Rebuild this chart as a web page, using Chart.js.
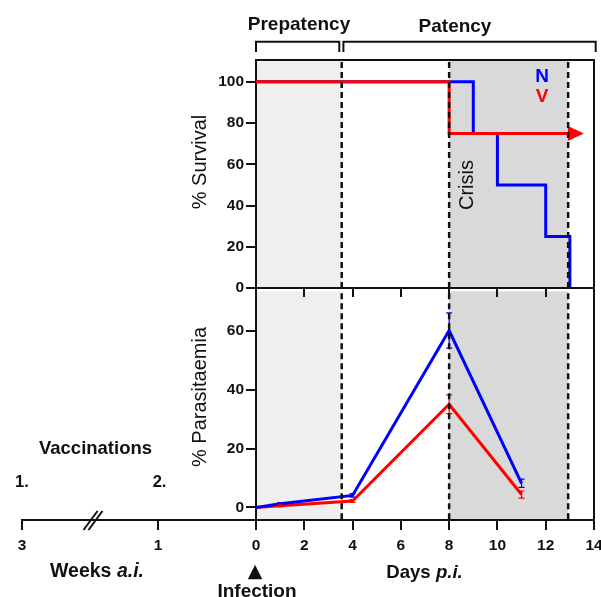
<!DOCTYPE html>
<html>
<head>
<meta charset="utf-8">
<script src="https://cdn.jsdelivr.net/npm/chart.js@4.4.1/dist/chart.umd.min.js"></script>
<style>
  html, body { margin: 0; padding: 0; background: #fff; }
  body { width: 601px; height: 597px; overflow: hidden; position: relative; }
  .wrap { position: absolute; left: 0; }
  .t { position: absolute; line-height: 1; white-space: nowrap; font-family: 'Liberation Sans', Arial, sans-serif; color: #111; }
  .b { font-weight: bold; }
  .c { transform: translateX(-50%); }
  .r { transform: translate(-50%, -50%) rotate(-90deg); }
  i { font-style: italic; }
</style>
</head>
<body>
<div class="wrap" style="top:280px; width:601px; height:317px;"><canvas id="cP"></canvas></div>
<div class="wrap" style="top:280px; width:601px; height:317px;"><canvas id="cW"></canvas></div>
<div class="wrap" style="top:0; width:601px; height:300px;"><canvas id="cS"></canvas></div>

<div class="t b c" style="left:299px; top:13.5px; font-size:19px;">Prepatency</div>
<div class="t b c" style="left:455px; top:15.8px; font-size:19px;">Patency</div>
<div class="t b c" style="left:542px; top:65.8px; font-size:19px; color:#0000ff;">N</div>
<div class="t b c" style="left:542px; top:85.8px; font-size:19px; color:#ff0000;">V</div>
<div class="t r" style="left:199px; top:162px; font-size:20px;">% Survival</div>
<div class="t r" style="left:199px; top:397px; font-size:20px;">% Parasitaemia</div>
<div class="t r" style="left:466px; top:185px; font-size:20px;">Crisis</div>
<div class="t b c" style="left:95.5px; top:439.3px; font-size:18.5px;">Vaccinations</div>
<div class="t b" style="left:15px; top:472.8px; font-size:16.5px;">1.</div>
<div class="t b" style="left:152.7px; top:472.8px; font-size:16.5px;">2.</div>
<div class="t b c" style="left:97px; top:560.8px; font-size:19.5px;">Weeks <i>a.i.</i></div>
<div class="t b c" style="left:424.5px; top:562.6px; font-size:18.6px;">Days <i>p.i.</i></div>
<div class="t c" style="left:255px; top:561px; font-size:19px; font-family:'DejaVu Sans';">▲</div>
<div class="t b c" style="left:257px; top:580.8px; font-size:19px;">Infection</div>

<script>
// ---------------- data ----------------
const dayTicks = [0, 2, 4, 6, 8, 10, 12, 14];
const weekTicks = [3, 1];
const survivalTicks = [0, 20, 40, 60, 80, 100];
const parasitTicks = [0, 20, 40, 60];

// survival (%), step curves
const survDaysN = [0, 9, 10, 12, 13];
const survN = [100, 75, 50, 25, 0];
const survDaysV = [0, 8, 13];
const survV = [100, 75, 75];

// parasitaemia (%), mean and error
const paraDays = [0, 1, 4, 8, 11];
const paraN = [0, 1.3, 4.1, 60, 8.2];
const paraV = [0, 0.6, 2.2, 35, 4.4];
const paraErrN = [0, 0.4, 0.6, 6, 1.4];
const paraErrV = [0, 0.3, 0.5, 3.2, 1.2];

// phase boundaries (days p.i.)
const prepatencyEnd = 3.55;
const crisisStart = 8;
const crisisEnd = 12.93;

// ---------------- helpers ----------------
const FONT = "'Liberation Sans', Arial, sans-serif";
const INK = '#111';
const BLUE = '#0000ff';
const RED = '#ff0000';
const tickFont = { family: FONT, size: 15.5, weight: 'bold' };

// broken week axis: weeks beyond 1 are compressed
function weekToAxis(w) { return w <= 1 ? -w : -(1 + (w - 1) * 0.694); }
function pts(xs, ys) { return xs.map((x, i) => ({ x: x, y: ys[i] })); }

function yAxis(min, max, ticks) {
  return {
    type: 'linear', min: min, max: max, position: 'left',
    afterBuildTicks: s => { s.ticks = ticks.map(v => ({ value: v })); },
    afterFit: s => { s.width = 256; },
    grid: { drawOnChartArea: false, drawTicks: true, tickLength: 10, color: INK, lineWidth: 2 },
    border: { display: true, color: INK, width: 2 },
    ticks: { font: tickFont, color: INK, padding: 2 }
  };
}
function xAxis(min, max, ticks, height, showLabels, tickLen, labelFn) {
  return {
    type: 'linear', min: min, max: max, position: 'bottom',
    afterBuildTicks: s => { s.ticks = ticks.map(v => ({ value: v })); },
    afterFit: s => { s.height = height; s.paddingLeft = 0; s.paddingRight = 0; },
    grid: { drawOnChartArea: false, drawTicks: true, tickLength: tickLen, color: INK, lineWidth: 2 },
    border: { display: true, color: INK, width: 2 },
    ticks: { display: showLabels, font: tickFont, color: INK, padding: 6, maxRotation: 0, autoSkip: false,
             callback: labelFn || (v => v) }
  };
}

const shadePlugin = {
  id: 'shade',
  beforeDraw(chart) {
    const { ctx, chartArea: a, scales: { x } } = chart;
    const p = v => x.getPixelForValue(v);
    ctx.save();
    ctx.fillStyle = '#efefef';
    ctx.fillRect(p(0), a.top, p(prepatencyEnd) - p(0), a.bottom - a.top);
    ctx.fillStyle = '#d9d9d9';
    ctx.fillRect(p(crisisStart), a.top, p(crisisEnd) - p(crisisStart), a.bottom - a.top);
    ctx.restore();
  }
};
const dashPlugin = {
  id: 'dash',
  afterDatasetsDraw(chart) {
    const { ctx, chartArea: a, scales: { x } } = chart;
    ctx.save();
    ctx.strokeStyle = INK; ctx.lineWidth = 2.5; ctx.setLineDash([6, 4]);
    [prepatencyEnd, crisisStart, crisisEnd].forEach(v => {
      const px = x.getPixelForValue(v);
      ctx.beginPath(); ctx.moveTo(px, a.top + 2); ctx.lineTo(px, a.bottom); ctx.stroke();
    });
    ctx.restore();
  }
};
function framePlugin(withTop) {
  return {
    id: 'frame' + (withTop ? 'T' : ''),
    afterDatasetsDraw(chart) {
      const { ctx, chartArea: a } = chart;
      ctx.save(); ctx.strokeStyle = INK; ctx.lineWidth = 2; ctx.setLineDash([]);
      ctx.beginPath();
      if (withTop) { ctx.moveTo(a.left - 1, a.top); ctx.lineTo(a.right, a.top); ctx.lineTo(a.right, a.bottom); }
      else { ctx.moveTo(a.right, a.top); ctx.lineTo(a.right, a.bottom); }
      ctx.stroke(); ctx.restore();
    }
  };
}
const arrowPlugin = {
  id: 'arrow',
  afterDatasetsDraw(chart) {
    const meta = chart.getDatasetMeta(0);
    const last = meta.data[meta.data.length - 1];
    const ctx = chart.ctx;
    ctx.save(); ctx.fillStyle = RED;
    ctx.beginPath();
    ctx.moveTo(last.x - 2, last.y - 7.5);
    ctx.lineTo(last.x + 14, last.y);
    ctx.lineTo(last.x - 2, last.y + 7.5);
    ctx.closePath(); ctx.fill(); ctx.restore();
  }
};
const bracketPlugin = {
  id: 'brackets',
  afterDraw(chart) {
    const { ctx, scales: { x } } = chart;
    const yTop = 41.7, yEnd = 52;
    const spans = [[0, 3.45], [3.62, 14.07]];
    ctx.save(); ctx.strokeStyle = INK; ctx.lineWidth = 2;
    spans.forEach(([a, b]) => {
      const x1 = x.getPixelForValue(a), x2 = x.getPixelForValue(b);
      ctx.beginPath(); ctx.moveTo(x1, yEnd); ctx.lineTo(x1, yTop); ctx.lineTo(x2, yTop); ctx.lineTo(x2, yEnd); ctx.stroke();
    });
    ctx.restore();
  }
};
const errPlugin = {
  id: 'err',
  afterDatasetsDraw(chart) {
    const { ctx, scales: { x, y } } = chart;
    chart.data.datasets.forEach(ds => {
      if (!ds.errors) return;
      ctx.save(); ctx.strokeStyle = ds.borderColor; ctx.lineWidth = 1.2;
      ds.data.forEach((p, i) => {
        const e = ds.errors[i]; if (!e) return;
        const px = x.getPixelForValue(p.x);
        const y1 = y.getPixelForValue(p.y + e), y2 = y.getPixelForValue(p.y - e);
        ctx.beginPath();
        ctx.moveTo(px, y1); ctx.lineTo(px, y2);
        ctx.moveTo(px - 3, y1); ctx.lineTo(px + 3, y1);
        ctx.moveTo(px - 3, y2); ctx.lineTo(px + 3, y2);
        ctx.stroke();
      });
      ctx.restore();
    });
  }
};
const breakPlugin = {
  id: 'axisBreak',
  afterDraw(chart) {
    const { ctx, chartArea: a, scales: { x } } = chart;
    const cx = x.getPixelForValue(weekToAxis(2)) + 3;
    const yb = a.bottom;
    ctx.save(); ctx.strokeStyle = INK; ctx.lineWidth = 2;
    [-2.5, 2.5].forEach(off => {
      ctx.beginPath(); ctx.moveTo(cx + off - 7, yb + 10); ctx.lineTo(cx + off + 7, yb - 9); ctx.stroke();
    });
    ctx.restore();
  }
};

const common = {
  responsive: true, maintainAspectRatio: false, animation: false, devicePixelRatio: 1,
  plugins: { legend: { display: false }, tooltip: { enabled: false } },
  elements: { point: { radius: 0 }, line: { tension: 0 } }
};

// ---------------- survival chart ----------------
new Chart(document.getElementById('cS'), {
  type: 'line',
  data: {
    datasets: [
      { label: 'V', data: pts(survDaysV, survV), borderColor: RED, borderWidth: 3, stepped: true, pointRadius: 0 },
      { label: 'N', data: pts(survDaysN, survN), borderColor: BLUE, borderWidth: 3, stepped: true, pointRadius: 0 }
    ]
  },
  options: Object.assign({}, common, {
    layout: { padding: { top: 60, right: 7, bottom: 0, left: 0 } },
    scales: {
      x: xAxis(0, 14, dayTicks, 12, false, 9),
      y: yAxis(0, 110.6, survivalTicks)
    }
  }),
  plugins: [shadePlugin, arrowPlugin, dashPlugin, framePlugin(true), bracketPlugin]
});

// ---------------- parasitaemia chart ----------------
new Chart(document.getElementById('cP'), {
  type: 'line',
  data: {
    datasets: [
      { label: 'N', data: pts(paraDays, paraN), errors: paraErrN, borderColor: BLUE, borderWidth: 3, pointRadius: 0 },
      { label: 'V', data: pts(paraDays, paraV), errors: paraErrV, borderColor: RED, borderWidth: 3, pointRadius: 0 }
    ]
  },
  options: Object.assign({}, common, {
    layout: { padding: { top: 8, right: 7, bottom: 0, left: 0 } },
    scales: {
      x: xAxis(0, 14, dayTicks, 77, true, 10),
      y: yAxis(-4.24, 73.3, parasitTicks)
    }
  }),
  plugins: [shadePlugin, errPlugin, dashPlugin, framePlugin(false)]
});

// ---------------- weeks (pre-infection) axis ----------------
new Chart(document.getElementById('cW'), {
  type: 'line',
  data: { datasets: [] },
  options: Object.assign({}, common, {
    layout: { padding: { top: 8, right: 345, bottom: 0, left: 22 } },
    scales: {
      x: xAxis(weekToAxis(3), 0, weekTicks.map(weekToAxis), 77, true, 10, (v, i) => String(weekTicks[i])),
      y: { display: false, min: 0, max: 1 }
    }
  }),
  plugins: [breakPlugin]
});
</script>
</body>
</html>
